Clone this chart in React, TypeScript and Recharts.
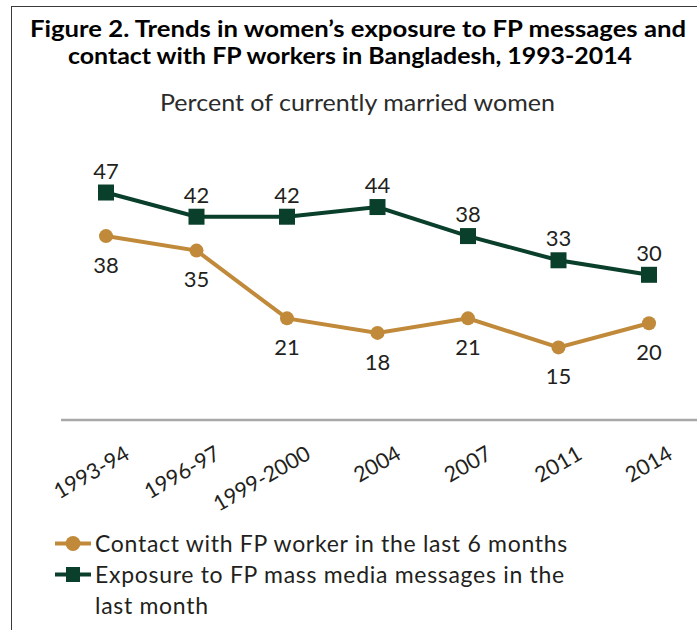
import React from 'react';
import { LineChart, Line, XAxis, YAxis, LabelList, Legend } from 'recharts';

const categories = ['1993-94', '1996-97', '1999-2000', '2004', '2007', '2011', '2014'];
const contactFP = [38, 35, 21, 18, 21, 15, 20];
const exposureMedia = [47, 42, 42, 44, 38, 33, 30];
const seriesNames = {
  contact: 'Contact with FP worker in the last 6 months',
  exposure: 'Exposure to FP mass media messages in the last month',
};
const titleLines = [
  'Figure 2. Trends in women’s exposure to FP messages and',
  'contact with FP workers in Bangladesh, 1993-2014',
];
const subtitle = 'Percent of currently married women';

const data = categories.map((c, i) => ({ year: c, contact: contactFP[i], exposure: exposureMedia[i] }));

const GREEN = '#0a3f2b';
const ORANGE = '#c08a3a';
const TEXT = '#231f20';
const FONT = 'Lato, "Open Sans", sans-serif';

const Tick = (props: any) => {
  const { x, y, payload } = props;
  return (
    <g transform={`translate(${x},${y})`}>
      <text
        x={25}
        y={30}
        textAnchor="end"
        transform="rotate(-30, 25, 30)"
        fill={TEXT}
        fontSize={21.5}
        fontFamily={FONT}
      >
        {payload.value}
      </text>
    </g>
  );
};

const SquareDot = (props: any) => {
  const { cx, cy, index } = props;
  return <rect key={`sq-${index}`} x={cx - 8} y={cy - 8} width={16} height={16} fill={GREEN} />;
};

const renderLegend = () => {
  const items = [
    { name: seriesNames.contact, color: ORANGE, shape: 'circle' },
    { name: seriesNames.exposure, color: GREEN, shape: 'square' },
  ];
  return (
    <div style={{ fontFamily: FONT, fontSize: 23, letterSpacing: 0.7, color: TEXT, lineHeight: '31px' }}>
      {items.map((it) => (
        <div key={it.name} style={{ display: 'flex', alignItems: 'flex-start' }}>
          <svg width={40} height={31} style={{ flex: 'none' }}>
            <line x1={2} y1={15.5} x2={38} y2={15.5} stroke={it.color} strokeWidth={4} />
            {it.shape === 'circle' ? (
              <circle cx={20} cy={15.5} r={7.5} fill={it.color} />
            ) : (
              <rect x={13} y={8} width={14} height={15} fill={it.color} />
            )}
          </svg>
          <div style={{ width: 485, marginLeft: 2 }}>{it.name}</div>
        </div>
      ))}
    </div>
  );
};

export default function App() {
  return (
    <div style={{ position: 'absolute', left: 0, top: 0, width: 697, height: 630, background: '#fff', overflow: 'hidden' }}>
      <div
        style={{
          position: 'absolute',
          left: 11,
          top: 6,
          width: 700,
          height: 640,
          borderLeft: '1.5px solid #3a3a3a',
          borderTop: '1.5px solid #3a3a3a',
        }}
      />
      <svg width={697} height={130} style={{ position: 'absolute', left: 0, top: 0 }}>
        <text
          x={30}
          y={37}
          textLength={656}
          lengthAdjust="spacingAndGlyphs"
          fontFamily={FONT}
          fontWeight={700}
          fontSize={22.5}
          fill="#000"
        >
          {titleLines[0]}
        </text>
        <text
          x={68}
          y={64}
          textLength={564}
          lengthAdjust="spacingAndGlyphs"
          fontFamily={FONT}
          fontWeight={700}
          fontSize={22.5}
          fill="#000"
        >
          {titleLines[1]}
        </text>
        <text
          x={160}
          y={111}
          textLength={395}
          lengthAdjust="spacingAndGlyphs"
          fontFamily={FONT}
          fontSize={23}
          fill="#2b2b2b"
        >
          {subtitle}
        </text>
      </svg>
      <div style={{ position: 'absolute', left: 0, top: 0 }}>
        <LineChart width={697} height={630} data={data} margin={{ top: 178, right: 0, left: 61, bottom: 150 }}>
          <XAxis
            dataKey="year"
            height={60}
            padding={{ left: 45, right: 48 }}
            axisLine={{ stroke: '#a8a8a8', strokeWidth: 2.5 }}
            tickLine={false}
            tick={<Tick />}
            interval={0}
          />
          <YAxis hide domain={[0, 50]} />
          <Legend
            layout="vertical"
            align="center"
            verticalAlign="middle"
            content={renderLegend}
            wrapperStyle={{ left: 53, top: 528, width: 620, height: 100 }}
          />
          <Line
            dataKey="contact"
            name={seriesNames.contact}
            stroke={ORANGE}
            strokeWidth={4}
            dot={{ r: 7, fill: ORANGE, stroke: 'none' }}
            activeDot={false}
            isAnimationActive={false}
          >
            <LabelList dataKey="contact" position="bottom" offset={21} fill={TEXT} fontSize={22} fontFamily={FONT} />
          </Line>
          <Line
            dataKey="exposure"
            name={seriesNames.exposure}
            stroke={GREEN}
            strokeWidth={4}
            dot={SquareDot}
            activeDot={false}
            isAnimationActive={false}
          >
            <LabelList dataKey="exposure" position="top" offset={14} fill={TEXT} fontSize={22} fontFamily={FONT} />
          </Line>
        </LineChart>
      </div>
    </div>
  );
}
